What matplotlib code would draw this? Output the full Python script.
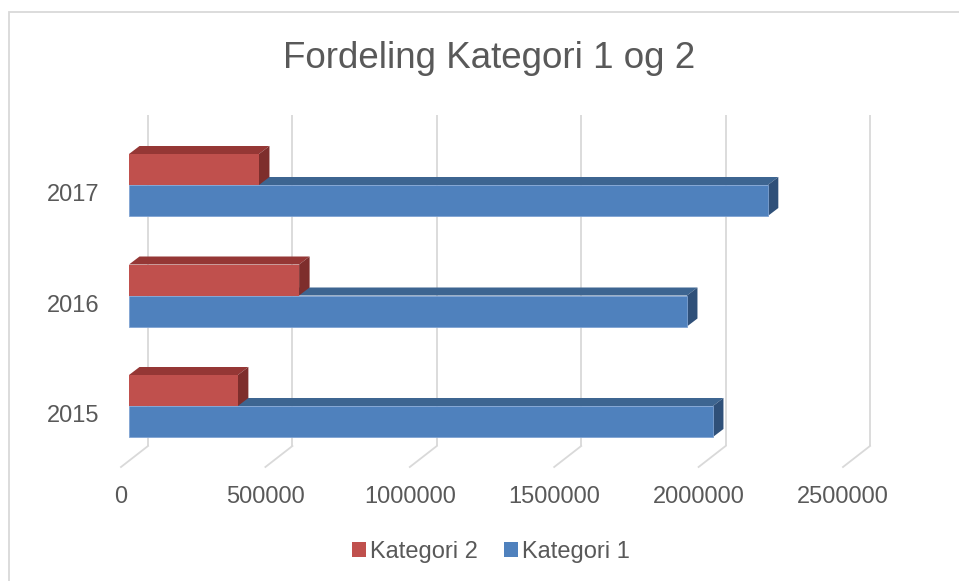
import matplotlib
matplotlib.use("Agg")
import matplotlib.pyplot as plt
from matplotlib.patches import Polygon, Rectangle
import numpy as np

plt.rcParams['font.family'] = ['Liberation Sans', 'DejaVu Sans']

# ---- data ----
years = ["2015", "2016", "2017"]
kategori1 = [2022000, 1932000, 2212000]
kategori2 = [377000, 589000, 450000]
xticks = [0, 500000, 1000000, 1500000, 2000000, 2500000]
title = "Fordeling Kategori 1 og 2"
series_names = ["Kategori 2", "Kategori 1"]

# ---- style ----
W, H = 959, 581
TXT = "#595959"
GRID = "#d9d9d9"
RED = ("#C0504D", "#953735", "#7E2E2C")   # front, top, side
BLUE = ("#4F81BD", "#3D6591", "#2F5079")

PX = 500000 / 144.4     # value units per pixel (x)
PY = 1 / 110.5          # category units per pixel (y)
X0 = 129                # pixel of value 0 on bar front plane
Y0 = 581 - 406          # pixel (from bottom) of first category centre

fig = plt.figure(figsize=(W / 100, H / 100), dpi=100)
ax = fig.add_axes([0, 0, 1, 1])
ax.set_xlim(-X0 * PX, (W - X0) * PX)
ax.set_ylim(-Y0 * PY, (H - Y0) * PY)
ax.axis("off")

# chart border
fig.patches.append(Rectangle((8.5 / W, -0.05), 1.2, (H - 12.5) / H + 0.05,
                             transform=fig.transFigure, fill=False,
                             edgecolor=GRID, linewidth=1.3, zorder=0))

# depth geometry
bdx, bdy = 10.5 * PX, 8 * PY          # bar depth
wall_dx, wall_dy = 19 * PX, 15 * PY   # back wall offset
floor_dx, floor_dy = -8 * PX, -6 * PY # front floor offset
y_floor_back = (581 - 446 - Y0) * PY
y_wall_top = (581 - 115 - Y0) * PY

# gridlines (back wall + floor)
for v in xticks:
    xb = v + wall_dx
    ax.plot([xb, xb], [y_wall_top, y_floor_back], color=GRID, lw=1.3, zorder=1,
            solid_capstyle="butt")
    ax.plot([xb, v + floor_dx], [y_floor_back, (581 - 467 - Y0) * PY],
            color=GRID, lw=1.3, zorder=1)
    ax.text(v + floor_dx, (581 - 503 - Y0) * PY, f"{v}", ha="center",
            va="baseline", fontsize=17, color=TXT)

h = 31 * PY
pos = np.arange(len(years))


def box_faces(y_bottom, value, cols, z):
    top = y_bottom + h
    ax.add_patch(Polygon([(0, top), (value, top), (value + bdx, top + bdy),
                          (bdx, top + bdy)], closed=True, facecolor=cols[1],
                         edgecolor="none", zorder=z))
    ax.add_patch(Polygon([(value, y_bottom), (value + bdx, y_bottom + bdy),
                          (value + bdx, top + bdy), (value, top)], closed=True,
                         facecolor=cols[2], edgecolor="none", zorder=z))


for i in pos:
    # blue (Kategori 1) below centre, red (Kategori 2) above
    box_faces(i - h, kategori1[i], BLUE, 2)
    box_faces(i, kategori2[i], RED, 3)

ax.barh(pos - h / 2, kategori1, height=h, color=BLUE[0], edgecolor="#7FA3D3",
        linewidth=0.6, zorder=4)
ax.barh(pos + h / 2, kategori2, height=h, color=RED[0], edgecolor="none",
        zorder=3.5)

# category labels
for i, yl in zip(pos, years):
    ax.text(-30 * PX, i - 16 * PY, yl, ha="right", va="baseline",
            fontsize=17, color=TXT)

# title
fig.text(489.5 / W, (H - 68) / H, title, ha="center", va="baseline",
         fontsize=26.5, color=TXT)

# legend
handles = [Rectangle((0, 0), 1, 1, facecolor=RED[0]),
           Rectangle((0, 0), 1, 1, facecolor=BLUE[0])]
leg = fig.legend(handles, series_names, loc="center",
                 bbox_to_anchor=(491 / W, (H - 552) / H), ncol=2, frameon=False,
                 fontsize=17, handlelength=0.6, handleheight=0.6,
                 handletextpad=0.17, columnspacing=1.1, borderaxespad=0)
for t in leg.get_texts():
    t.set_color(TXT)

fig.savefig("out.png", dpi=100)
